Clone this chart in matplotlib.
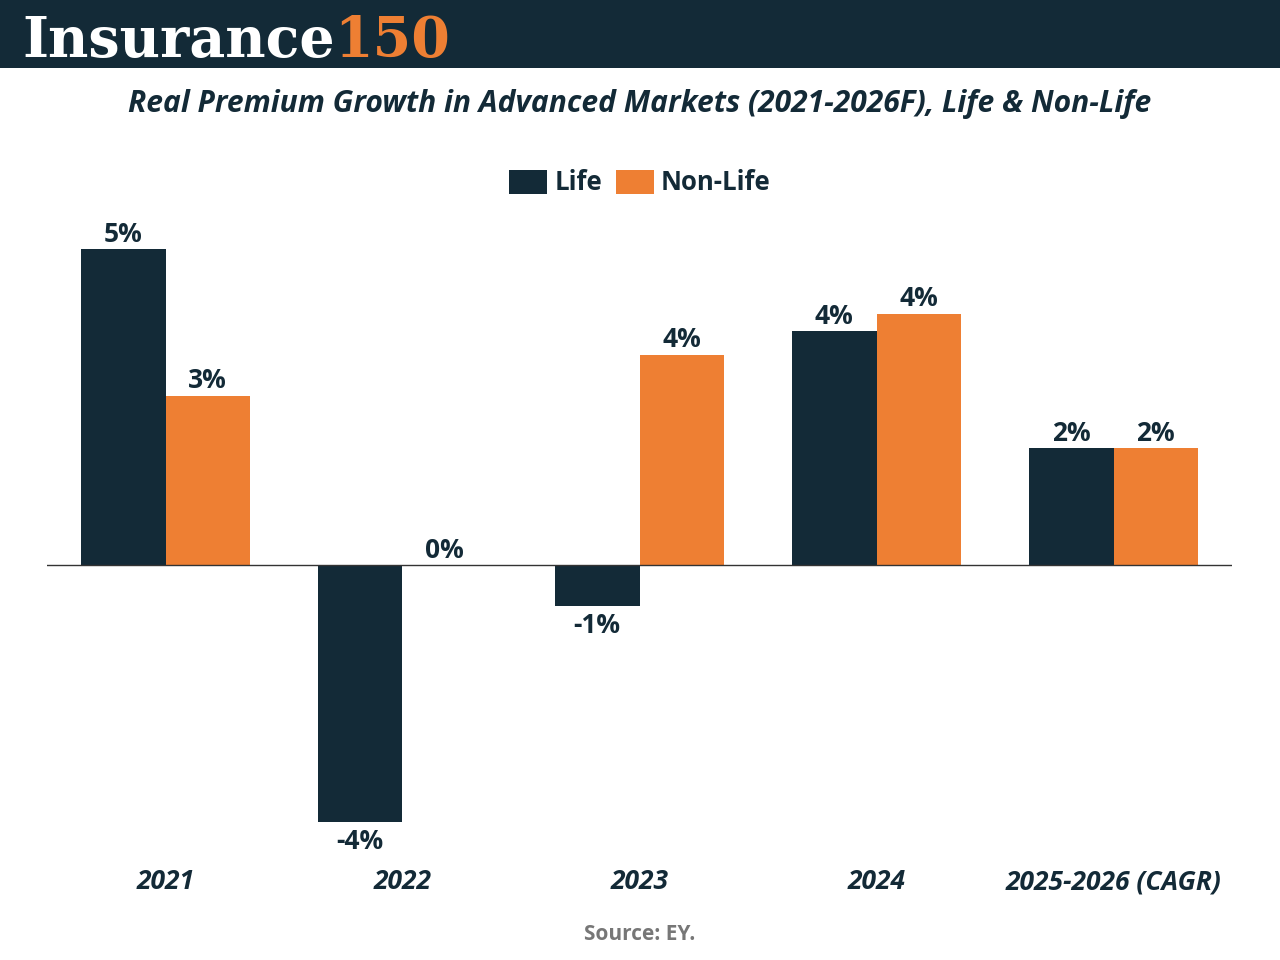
import matplotlib
matplotlib.use('Agg')
import matplotlib.pyplot as plt
from matplotlib.patches import Rectangle
import numpy as np

# data
categories = ['2021', '2022', '2023', '2024', '2025-2026 (CAGR)']
life = [5.4, -4.4, -0.7, 4.0, 2.0]
non_life = [2.9, 0.0, 3.6, 4.3, 2.0]
life_labels = ['5%', '-4%', '-1%', '4%', '2%']
non_life_labels = ['3%', '0%', '4%', '4%', '2%']

DARK = '#132a37'
ORANGE = '#ee7f33'
plt.rcParams['font.family'] = ['Open Sans', 'DejaVu Sans']


def draw_chart():
    fig = plt.figure(figsize=(12.8, 9.6), dpi=100)

    # header band with logo
    fig.patches.append(Rectangle((0, 1 - 68 / 960), 1, 68 / 960, transform=fig.transFigure,
                                 facecolor=DARK, edgecolor='none', zorder=0))
    t1 = fig.text(22 / 1280, 1 - 57 / 960, 'Insurance', color='white', fontsize=40,
                  fontfamily='DejaVu Serif', fontweight='bold', va='baseline', ha='left')
    fig.canvas.draw()
    bb = t1.get_window_extent(fig.canvas.get_renderer())
    fig.text(bb.x1 / 1280, 1 - 57 / 960, '150', color=ORANGE, fontsize=40,
             fontfamily='DejaVu Serif', fontweight='bold', va='baseline', ha='left')

    fig.text(0.5, 1 - 104 / 960, 'Real Premium Growth in Advanced Markets (2021-2026F), Life & Non-Life',
             ha='center', va='center', fontsize=21.6, fontweight='bold', fontstyle='italic', color=DARK)

    ax = fig.add_axes([47 / 1280, 0.1068, (1232 - 47) / 1280, 0.670])
    x = np.arange(len(categories))
    w = 0.357
    b1 = ax.bar(x - w / 2, life, w, color=DARK, label='Life')
    b2 = ax.bar(x + w / 2, non_life, w, color=ORANGE, label='Non-Life')

    for bars, vals, labs in [(b1, life, life_labels), (b2, non_life, non_life_labels)]:
        for rect, v, lab in zip(bars, vals, labs):
            cx = rect.get_x() + rect.get_width() / 2
            if v >= 0:
                ax.annotate(lab, (cx, v), xytext=(0, 1), textcoords='offset points',
                            ha='center', va='bottom', fontsize=19, fontweight='bold', color=DARK)
            else:
                ax.annotate(lab, (cx, v), xytext=(0, -4), textcoords='offset points',
                            ha='center', va='top', fontsize=19, fontweight='bold', color=DARK)

    ax.axhline(0, color='#333333', linewidth=1)
    ax.set_xlim(-0.5, 4.5)
    ax.set_ylim(-5, 6)
    ax.set_yticks([])
    ax.set_xticks(x)
    ax.set_xticklabels(categories, fontsize=19, fontweight='bold', fontstyle='italic', color=DARK)
    ax.tick_params(axis='x', length=0, pad=0)
    for lab in ax.get_xticklabels():
        lab.set_y(-0.017)
    for s in ax.spines.values():
        s.set_visible(False)

    fig.legend(handles=[b1, b2], loc='center', bbox_to_anchor=(0.5, 1 - 183 / 960), ncol=2,
               frameon=False, prop={'size': 18.5, 'weight': 'bold'}, handlelength=1.48,
               handleheight=1.05, handletextpad=0.27, columnspacing=0.55, labelcolor=DARK)

    fig.text(0.5, 1 - 934 / 960, 'Source: EY.', ha='center', va='center', fontsize=15,
             fontweight='bold', color='#777777')

    fig.savefig('out.png', dpi=100)


if __name__ == '__main__':
    draw_chart()
